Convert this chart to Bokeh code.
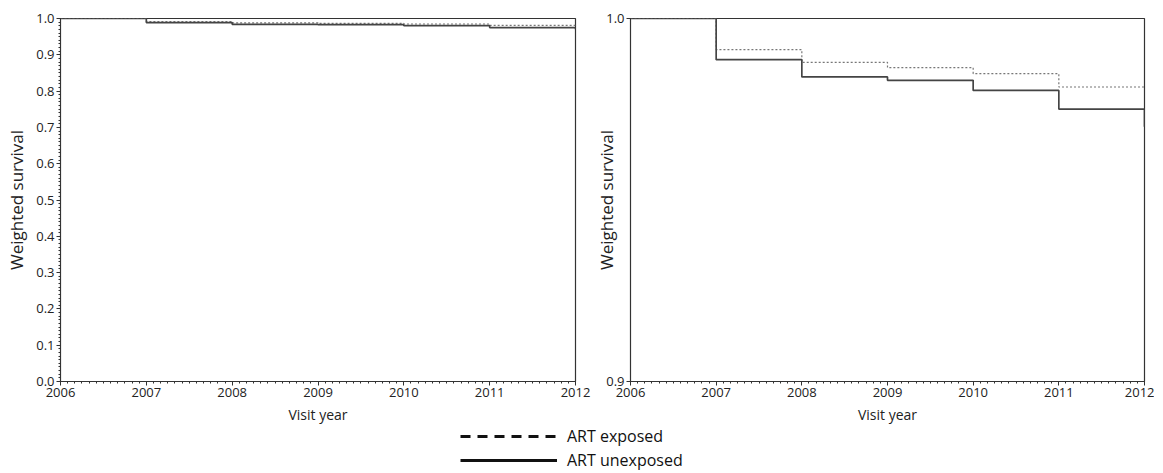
import math
from bokeh.plotting import figure
from bokeh.layouts import column, row
from bokeh.models import (FixedTicker, NumeralTickFormatter, Range1d, Legend,
                          LegendItem, ColumnDataSource, Label)
from bokeh.embed import file_html
from bokeh.resources import INLINE

# ---- data ----
visit_year = [2006, 2007, 2008, 2009, 2010, 2011, 2012]
surv_exposed = [1.0, 0.99144, 0.98793, 0.98646, 0.98481, 0.98113, 0.98113]
surv_unexposed = [1.0, 0.98867, 0.98390, 0.98296, 0.98019, 0.97505, 0.97017]

x_major = [2006, 2007, 2008, 2009, 2010, 2011, 2012]
y_major_left = [0.0, 0.1, 0.2, 0.3, 0.4, 0.5, 0.6, 0.7, 0.8, 0.9, 1.0]
y_major_right = [0.9, 1.0]

series_labels = ["ART exposed", "ART unexposed"]
x_title = "Visit year"
y_title = "Weighted survival"

FONT = "Open Sans"
AXIS_COL = "#333333"

x_minor = [2006 + i / 12 for i in range(0, 6 * 12 + 1)]
y_minor_left = [i / 100 for i in range(0, 101)]


def style_axes(p):
    for ax in (p.xaxis[0], p.yaxis[0]):
        ax.axis_line_color = AXIS_COL
        ax.major_tick_line_color = AXIS_COL
        ax.minor_tick_line_color = AXIS_COL
        ax.major_tick_out = 4
        ax.major_tick_in = 0
        ax.minor_tick_out = 2
        ax.minor_tick_in = 0
        ax.major_label_text_font = FONT
        ax.major_label_text_font_size = "13px"
        ax.major_label_text_color = "#222222"
        ax.major_label_standoff = 2
        ax.axis_label_text_font = FONT
        ax.axis_label_text_font_size = "14px"
        ax.axis_label_text_font_style = "normal"
        ax.axis_label_text_color = "#222222"
    p.xaxis[0].axis_label = x_title
    p.yaxis[0].axis_label_text_font_size = "17px"
    p.xaxis[0].ticker = FixedTicker(ticks=x_major, minor_ticks=x_minor)
    p.xgrid.visible = False
    p.ygrid.visible = False
    p.outline_line_color = AXIS_COL
    p.outline_line_alpha = 1.0
    p.outline_line_width = 1.2


def make_panel(ymin, ymax, yticks, yminor, border_left, border_right, fw):
    p = figure(output_backend="svg", toolbar_location=None,
               frame_width=fw, frame_height=363,
               min_border_left=border_left, min_border_right=border_right,
               min_border_top=18, min_border_bottom=45,
               x_range=Range1d(2006, 2012), y_range=Range1d(ymin, ymax),
               background_fill_color="white", border_fill_color="white")
    style_axes(p)
    p.yaxis[0].ticker = FixedTicker(ticks=yticks, minor_ticks=yminor)
    p.yaxis[0].formatter = NumeralTickFormatter(format="0.0")
    p.step(visit_year, surv_exposed, mode="after", line_color="#777777",
           line_width=1.2, line_dash="2 2")
    p.step(visit_year, surv_unexposed, mode="after", line_color="#444444",
           line_width=1.7)
    return p


p1 = make_panel(0.0, 1.0, y_major_left, y_minor_left, 60, 16, 515)
p1.yaxis[0].axis_label = y_title
p1.yaxis[0].axis_label_standoff = 5

# narrow strip carrying the right panel's y-axis title
pmid = figure(output_backend="svg", toolbar_location=None,
              frame_width=27, frame_height=363,
              min_border_left=0, min_border_right=0, min_border_top=18,
              min_border_bottom=45, x_range=Range1d(0, 27),
              y_range=Range1d(0, 1), background_fill_alpha=0,
              border_fill_alpha=0)
pmid.axis.visible = False
pmid.xgrid.visible = False
pmid.ygrid.visible = False
pmid.outline_line_color = None
pmid.add_layout(Label(x=15, y=0.5, text=y_title, angle=math.pi / 2,
                      text_align="center", text_baseline="middle",
                      text_font=FONT, text_font_size="17px",
                      text_color="#222222"))

p2 = make_panel(0.9, 1.0, y_major_right, [], 25, 10, 514)
p2.border_fill_alpha = 0
p2.margin = (0, 0, 0, -15)

# ---- legend strip ----
p3 = figure(output_backend="svg", toolbar_location=None,
            frame_width=1146, frame_height=47,
            min_border_left=0, min_border_right=0, min_border_top=0,
            min_border_bottom=0, x_range=Range1d(0, 1), y_range=Range1d(0, 1),
            background_fill_color="white", border_fill_color="white")
p3.axis.visible = False
p3.xgrid.visible = False
p3.ygrid.visible = False
p3.outline_line_color = None
hidden = ColumnDataSource(data=dict(x=[-10, -9], y=[-10, -9]))
r_exp = p3.line("x", "y", source=hidden, line_color="#111111", line_width=3,
                line_dash="10 7")
r_unexp = p3.line("x", "y", source=hidden, line_color="#111111", line_width=3)
legend = Legend(items=[LegendItem(label=series_labels[0], renderers=[r_exp]),
                       LegendItem(label=series_labels[1], renderers=[r_unexp])],
                location=(460, 2), orientation="vertical",
                padding=0, margin=0, spacing=2, border_line_color=None,
                background_fill_alpha=0, glyph_width=97, glyph_height=20,
                label_height=20, label_standoff=10,
                label_text_font=FONT, label_text_font_size="16px",
                label_text_color="#111111")
p3.add_layout(legend, "center")

layout = column(row(p1, pmid, p2, spacing=0), p3, spacing=0)

open("out.html", "w").write(file_html(layout, INLINE))
